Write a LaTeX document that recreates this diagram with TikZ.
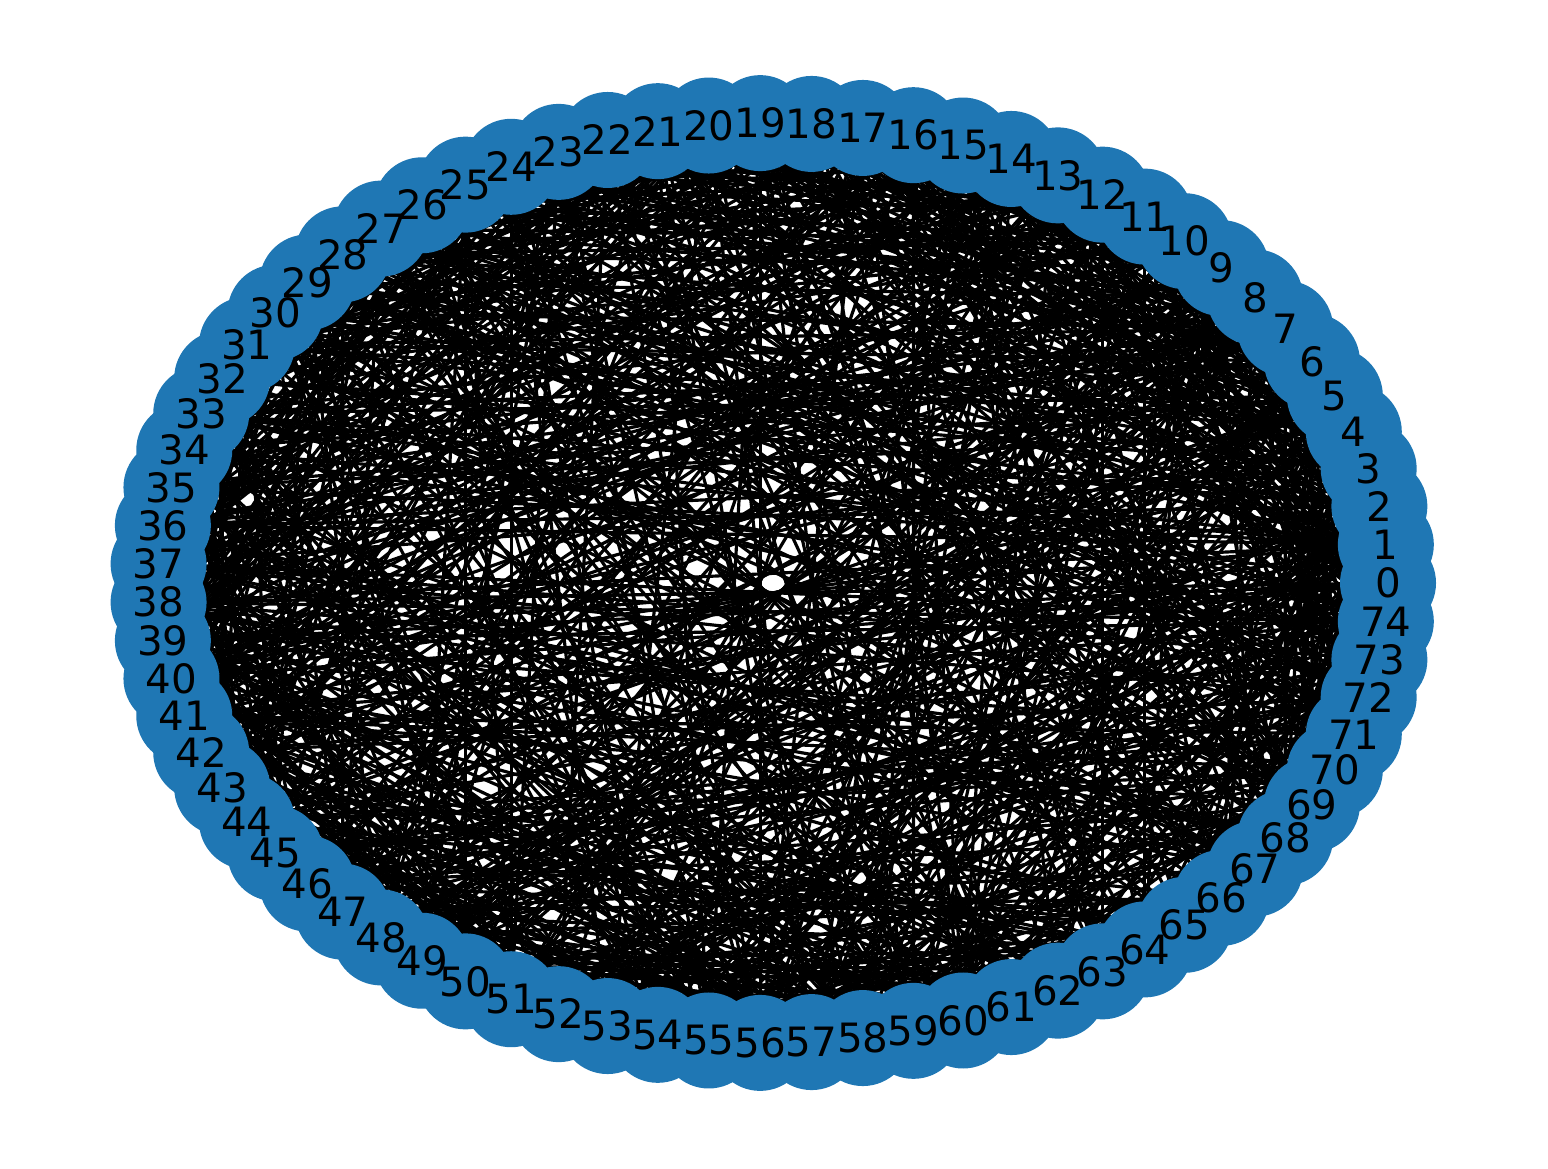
\documentclass[tikz,border=0pt]{standalone}
\usepackage{fontspec}
\setmainfont{DejaVu Sans}
\usepackage{tikz}
\definecolor{nodeblue}{HTML}{1F77B4}

\begin{document}
\begin{tikzpicture}[
    edge/.style={black, line width=0.9pt},
    vertex/.style={circle, fill=nodeblue, inner sep=0pt, minimum size=0.96cm},
    lbl/.style={inner sep=0pt, font=\fontsize{11.5}{13}\selectfont}
    ]
    \useasboundingbox (0,0) rectangle (15.48,11.68);
    \pgfmathsetseed{7}
    % places on the ring
    \foreach \i in {0,...,74}
        \coordinate (p\i) at ({7.73+6.15*cos(4.8*\i)}, {5.85+4.60*sin(4.8*\i)});
    % edges
    \foreach \i in {0,...,73}{
        \pgfmathtruncatemacro\jstart{\i+1}
        \foreach \j in {\jstart,...,74}{
            \pgfmathtruncatemacro\hit{100*rnd}
            \ifnum\hit<35 \draw[edge] (p\i) -- (p\j);\fi
        }
    }
    \foreach \i in {0,...,74}
        \node[vertex] (n\i) at (p\i) {};
    \foreach \i in {0,...,74}
        \node[lbl] (l\i) at (n\i) {\i};
\end{tikzpicture}
\end{document}
